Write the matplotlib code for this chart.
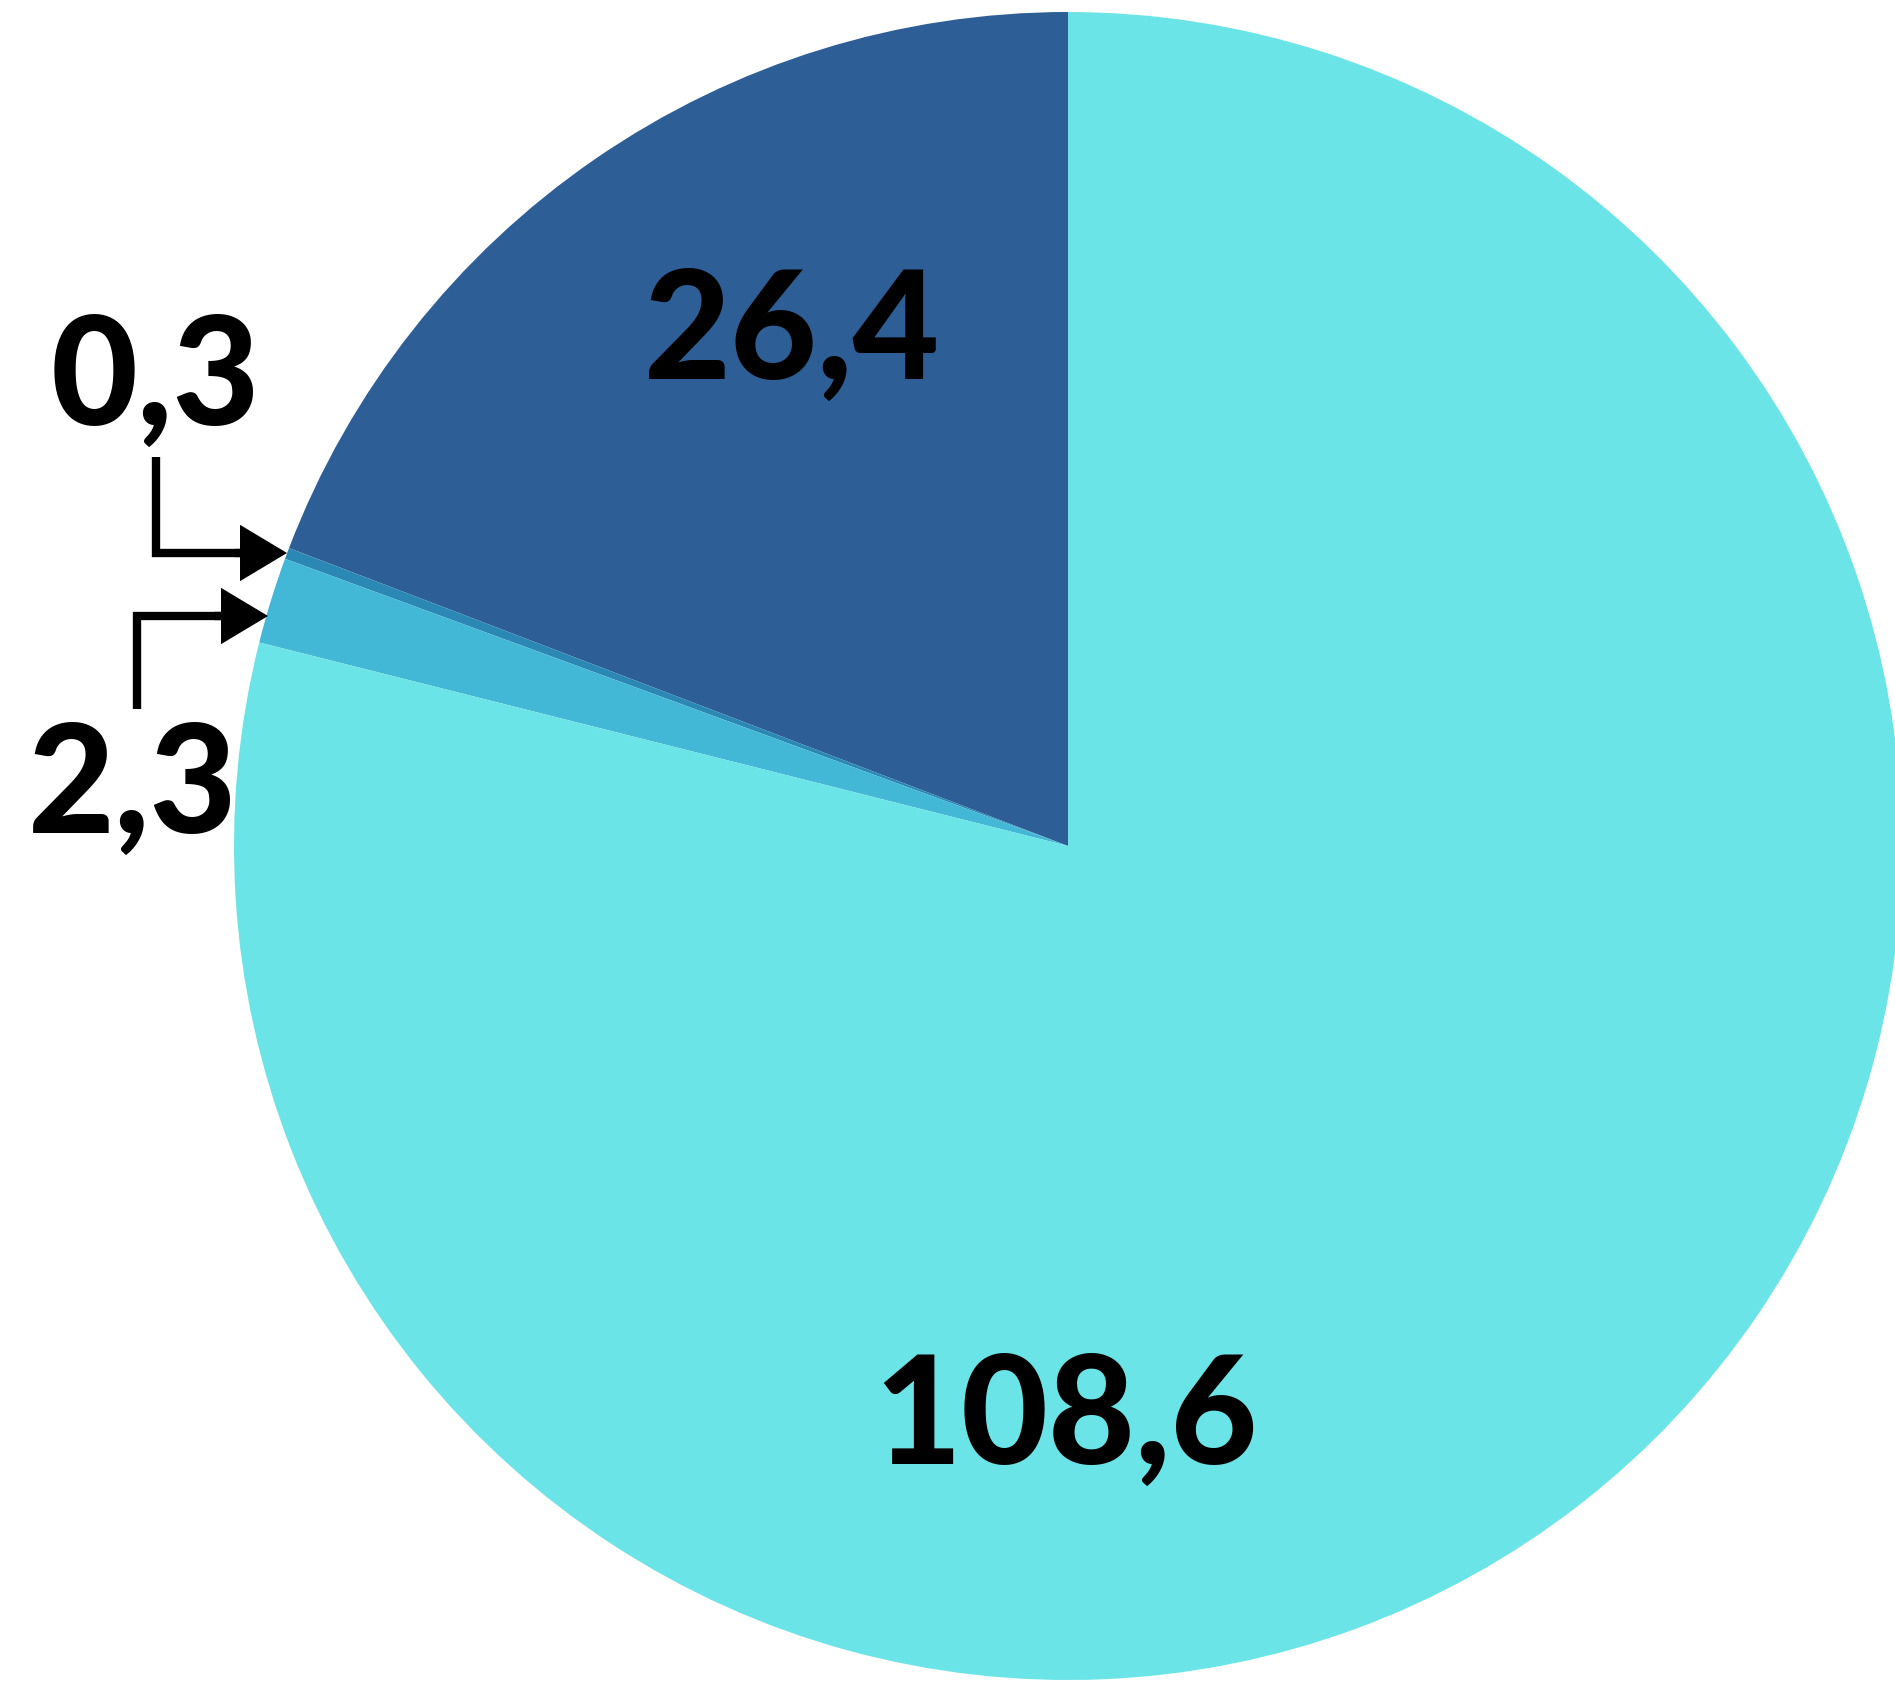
import matplotlib.pyplot as plt

# slice values (counter-clockwise from 12 o'clock)
values = [26.4, 0.3, 2.3, 108.6]
labels = ["26,4", "0,3", "2,3", "108,6"]
colors = ["#2E5E96", "#2B88B5", "#43B7D6", "#6BE4E7"]

W, H = 1895, 1684
fig = plt.figure(figsize=(W / 100, H / 100), dpi=100)
ax = fig.add_axes([0, 0, 1, 1])

wedges, _ = ax.pie(values, colors=colors, startangle=90, counterclock=True,
                   center=(1068, 838), radius=834, frame=True,
                   wedgeprops=dict(linewidth=0))
ax.set_xlim(0, W)
ax.set_ylim(0, H)
ax.set_aspect("equal")
ax.axis("off")

font = dict(family="Lato", fontweight="black", fontsize=108, color="black",
            ha="center", va="center")
ax.text(792, 1349, labels[0], **font)
ax.text(1066, 264, labels[3], **font)
ax.text(155, 1303, labels[1], **font)
ax.text(133, 895, labels[2], **font)

# elbow arrows for the two small slices
arrow = dict(arrowstyle="-|>,head_length=2.5,head_width=1.5", color="black",
             lw=6, shrinkA=0, shrinkB=0, joinstyle="miter", capstyle="butt")
line = dict(color="black", lw=6, solid_joinstyle="miter", solid_capstyle="butt")

ax.plot([156, 156, 245], [1227, 1131, 1131], **line)
ax.annotate("", xy=(287, 1131), xytext=(235, 1131), arrowprops=arrow)

ax.plot([137, 137, 225], [975, 1068, 1068], **line)
ax.annotate("", xy=(268, 1068), xytext=(215, 1068), arrowprops=arrow)

fig.savefig("out.png", dpi=100, facecolor="white")
